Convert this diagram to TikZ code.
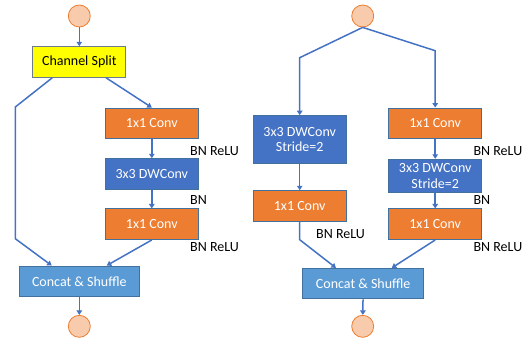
\documentclass[tikz,border=0pt]{standalone}
\usepackage{fontspec}
\setmainfont{Carlito}
\usetikzlibrary{arrows.meta}
\definecolor{oorange}{HTML}{ED7D31}
\definecolor{oblue}{HTML}{4472C4}
\definecolor{olight}{HTML}{5B9BD5}
\definecolor{oborder}{HTML}{41719C}
\definecolor{ocircle}{HTML}{F8CBAD}
\definecolor{oyellow}{HTML}{FFFF00}
\begin{document}
\begin{tikzpicture}[x=1pt,y=-1pt,
  font=\fontsize{14}{15.7}\selectfont,
  box/.style={draw=oborder, line width=1pt, inner sep=0pt, text=white, align=center, minimum width=93pt, minimum height=30.5pt},
  convbox/.style={box, fill=oorange},
  dwbox/.style={box, fill=oblue},
  catbox/.style={box, fill=olight, minimum width=120.5pt},
  splitbox/.style={box, fill=oyellow, text=black, draw=gray!70!oborder},
  io/.style={circle, draw=oorange, fill=ocircle, line width=0.8pt, minimum size=22pt, inner sep=0pt},
  conn/.style={draw=oblue, line width=1.5pt},
  arr/.style={conn, -{Triangle[width=5.5pt,length=4.5pt]}},
  lab/.style={anchor=west, inner sep=0pt, text=black}
]
\useasboundingbox (0,0) rectangle (532,343);
% ---------- left unit ----------
\node[io] (inL) at (79.3,16) {};
\node[splitbox] (split) at (79.3,62) {Channel Split};
\node[convbox] (convA) at (151.8,123.3) {1x1 Conv};
\node[dwbox] (dwA) at (151.8,174) {3x3 DWConv};
\node[convbox] (convB) at (151.8,224.2) {1x1 Conv};
\node[catbox] (catL) at (79.3,281.3) {Concat \& Shuffle};
\node[io] (outL) at (79.3,326.3) {};
\node[lab] (lA) at (190,150.7) {BN ReLU};
\node[lab] (lB) at (190,200.3) {BN};
\node[lab] (lC) at (190,247.3) {BN ReLU};
\coordinate (bpa) at (15.3,107);
\coordinate (bpb) at (15.3,238.7);
\draw[arr] (inL) -- (split);
\draw[arr] ([xshift=-27pt]split.south) -- (bpa) -- (bpb) -- ([xshift=-27.6pt]catL.north);
\draw[arr] ([xshift=26.7pt]split.south) -- (convA.north);
\draw[arr] (convA) -- (dwA);
\draw[arr] (dwA) -- (convB);
\draw[arr] (convB.south) -- ([xshift=27.4pt]catL.north);
\draw[arr] (catL) -- (outL);
% ---------- right unit ----------
\node[io] (inR) at (362.7,16) {};
\node[dwbox, minimum height=47.6pt] (dwS) at (299.7,139.5) {3x3 DWConv\\Stride=2};
\node[convbox] (convC) at (299.7,206) {1x1 Conv};
\node[convbox] (convD) at (435.2,123.3) {1x1 Conv};
\node[dwbox, minimum height=33pt] (dwT) at (435.2,175.8) {3x3 DWConv\\Stride=2};
\node[convbox] (convE) at (435.2,224.2) {1x1 Conv};
\node[catbox] (catR) at (363.2,283.7) {Concat \& Shuffle};
\node[io] (outR) at (362.7,326.3) {};
\node[lab] (lD) at (316,234.3) {BN ReLU};
\node[lab] (lE) at (473.3,150.7) {BN ReLU};
\node[lab] (lF) at (473.3,200.3) {BN};
\node[lab] (lG) at (473.3,247.3) {BN ReLU};
\coordinate (ra) at (299.7,57.7);
\coordinate (rb) at (435.2,50.7);
\coordinate (rc) at (299.7,239.7);
\draw[arr] (inR.south) -- (ra) -- (dwS.north);
\draw[arr] (inR.south) -- (rb) -- (convD.north);
\draw[arr] (dwS) -- (convC);
\draw[arr] (convC.south) -- (rc) -- ([xshift=-27.2pt]catR.north);
\draw[arr] (convD) -- (dwT);
\draw[arr] (dwT) -- (convE);
\draw[arr] (convE.south) -- ([xshift=28.5pt]catR.north);
\draw[arr] (catR) -- (outR);
\end{tikzpicture}
\end{document}
